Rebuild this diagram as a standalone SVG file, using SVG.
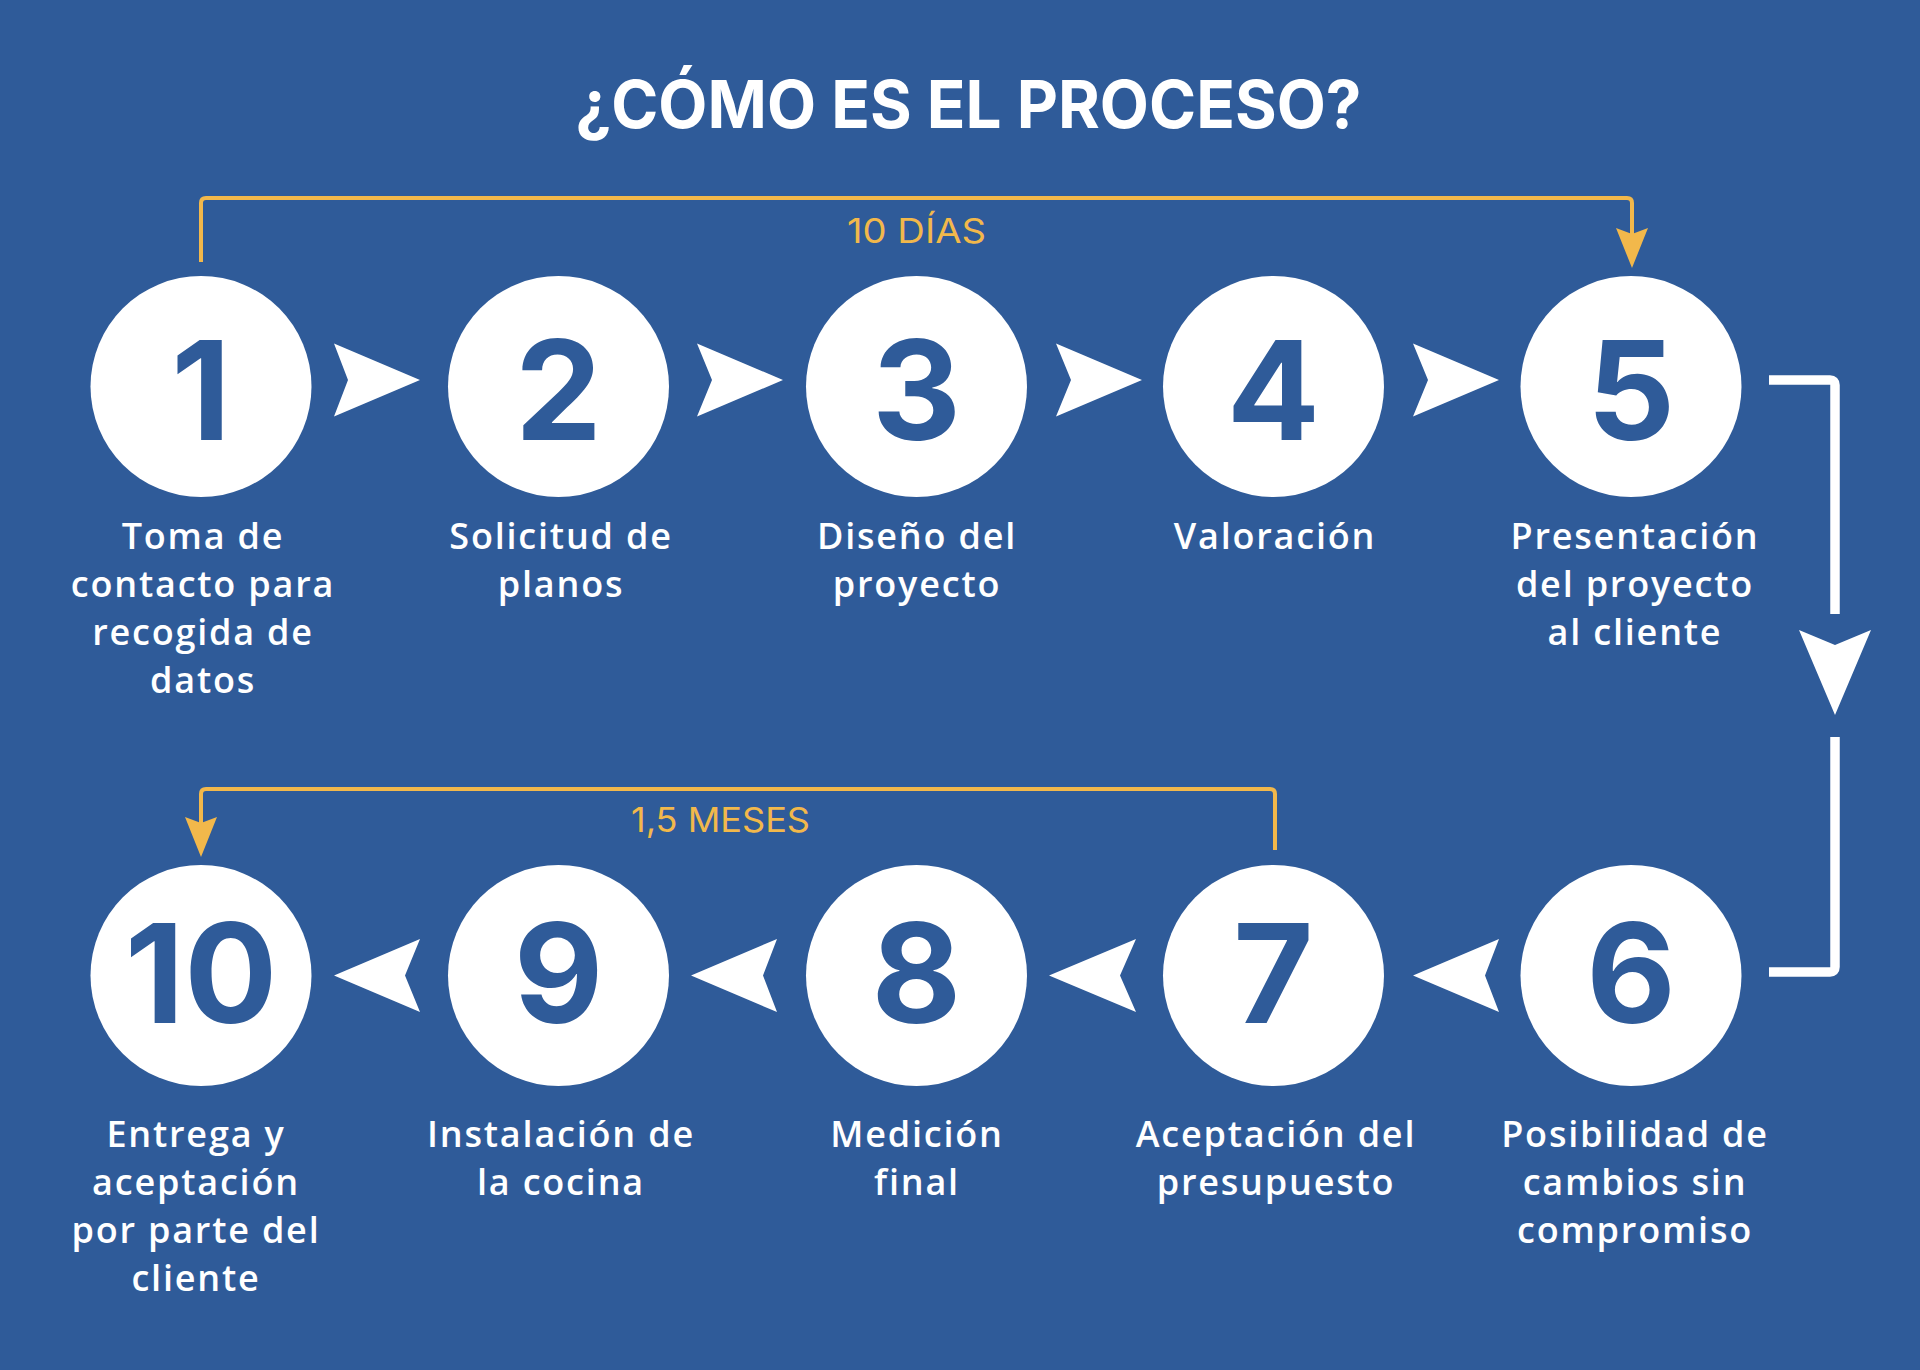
<svg xmlns="http://www.w3.org/2000/svg" width="1920" height="1370" viewBox="0 0 1920 1370">
<style>
.bg{fill:#2F5B99}
.circ{fill:#FFFFFF}
.num{font-family:Inter,"Open Sans","Liberation Sans",sans-serif;font-weight:700;font-size:138px;fill:#2F5B99;text-anchor:middle}
.lbl{font-family:"Open Sans","Noto Sans","Liberation Sans",sans-serif;font-weight:600;font-size:36px;fill:#FFFFFF;text-anchor:middle;letter-spacing:1.8px}
.title{font-family:Inter,"Open Sans","Liberation Sans",sans-serif;font-weight:700;font-size:66px;fill:#FFFFFF;text-anchor:middle}
.ylbl{font-family:Inter,"Open Sans","Liberation Sans",sans-serif;font-weight:400;font-size:34px;fill:#F2B84B;text-anchor:middle}
.wa{fill:#FFFFFF}
.wline{fill:none;stroke:#FFFFFF;stroke-width:9.5;stroke-linejoin:round}
.yline{fill:none;stroke:#F2B84B;stroke-width:4;stroke-linejoin:round}
.ya{fill:#F2B84B}
</style>
<rect class="bg" x="0" y="0" width="1920" height="1370"/>
<text class="title" x="968.5" y="128" textLength="786" lengthAdjust="spacingAndGlyphs">¿CÓMO ES EL PROCESO?</text>

<g id="connectors">
  <!-- row 1 arrows -->
  <path class="wa" d="M334,343.5 L420,380 L334,416.5 L348,380 Z"/>
  <path class="wa" d="M697,343.5 L783,380 L697,416.5 L712,380 Z"/>
  <path class="wa" d="M1056,343.5 L1142,380 L1056,416.5 L1071,380 Z"/>
  <path class="wa" d="M1413,343.5 L1499,380 L1413,416.5 L1428,380 Z"/>
  <!-- row 2 arrows -->
  <path class="wa" d="M420,939 L334,975.5 L420,1012 L405,975.5 Z"/>
  <path class="wa" d="M777,939 L691,975.5 L777,1012 L763,975.5 Z"/>
  <path class="wa" d="M1136,939 L1049,975.5 L1136,1012 L1120,975.5 Z"/>
  <path class="wa" d="M1499,939 L1413,975.5 L1499,1012 L1485,975.5 Z"/>
  <!-- right connector 5 -> 6 -->
  <path class="wline" d="M1769,380 L1830,380 Q1835,380 1835,385 L1835,614"/>
  <path class="wa" d="M1799,630 L1835,645 L1871,630 L1835,715 Z"/>
  <path class="wline" d="M1835,737 L1835,967 Q1835,972 1830,972 L1769,972"/>
  <!-- 10 DIAS bracket -->
  <path class="yline" d="M201,262 L201,203 Q201,198 206,198 L1627,198 Q1632,198 1632,203 L1632,236"/>
  <path class="ya" d="M1616,228 L1632,234 L1648,228 L1632,268 Z"/>
  <text class="ylbl" x="916.5" y="243" textLength="139" lengthAdjust="spacingAndGlyphs">10 DÍAS</text>
  <!-- 1,5 MESES bracket -->
  <path class="yline" d="M1275,850 L1275,794 Q1275,789 1270,789 L206,789 Q201,789 201,794 L201,826"/>
  <path class="ya" d="M185,817 L201,823 L217,817 L201,857 Z"/>
  <text class="ylbl" x="720.5" y="832" textLength="179" lengthAdjust="spacingAndGlyphs">1,5 MESES</text>
</g>

<g id="node1">
  <circle class="circ" cx="201" cy="386.5" r="110.5"/>
  <text class="num" x="201" y="440">1</text>
  <text class="lbl"><tspan x="203" y="549">Toma de</tspan><tspan x="203" y="597">contacto para</tspan><tspan x="203" y="645">recogida de</tspan><tspan x="203" y="693">datos</tspan></text>
</g>
<g id="node2">
  <circle class="circ" cx="558.5" cy="386.5" r="110.5"/>
  <text class="num" x="558.5" y="440">2</text>
  <text class="lbl"><tspan x="561" y="549">Solicitud de</tspan><tspan x="561" y="597">planos</tspan></text>
</g>
<g id="node3">
  <circle class="circ" cx="916.5" cy="386.5" r="110.5"/>
  <text class="num" x="916.5" y="440">3</text>
  <text class="lbl"><tspan x="917" y="549">Diseño del</tspan><tspan x="917" y="597">proyecto</tspan></text>
</g>
<g id="node4">
  <circle class="circ" cx="1273.5" cy="386.5" r="110.5"/>
  <text class="num" x="1273.5" y="440">4</text>
  <text class="lbl"><tspan x="1275" y="549">Valoración</tspan></text>
</g>
<g id="node5">
  <circle class="circ" cx="1631" cy="386.5" r="110.5"/>
  <text class="num" x="1631" y="440">5</text>
  <text class="lbl"><tspan x="1635" y="549">Presentación</tspan><tspan x="1635" y="597">del proyecto</tspan><tspan x="1635" y="645">al cliente</tspan></text>
</g>
<g id="node6">
  <circle class="circ" cx="1631" cy="975.5" r="110.5"/>
  <text class="num" x="1631" y="1023">6</text>
  <text class="lbl"><tspan x="1635" y="1147">Posibilidad de</tspan><tspan x="1635" y="1195">cambios sin</tspan><tspan x="1635" y="1243">compromiso</tspan></text>
</g>
<g id="node7">
  <circle class="circ" cx="1273.5" cy="975.5" r="110.5"/>
  <text class="num" x="1273.5" y="1023">7</text>
  <text class="lbl"><tspan x="1276" y="1147">Aceptación del</tspan><tspan x="1276" y="1195">presupuesto</tspan></text>
</g>
<g id="node8">
  <circle class="circ" cx="916.5" cy="975.5" r="110.5"/>
  <text class="num" x="916.5" y="1023">8</text>
  <text class="lbl"><tspan x="917" y="1147">Medición</tspan><tspan x="917" y="1195">final</tspan></text>
</g>
<g id="node9">
  <circle class="circ" cx="558.5" cy="975.5" r="110.5"/>
  <text class="num" x="558.5" y="1023">9</text>
  <text class="lbl"><tspan x="561" y="1147">Instalación de</tspan><tspan x="561" y="1195">la cocina</tspan></text>
</g>
<g id="node10">
  <circle class="circ" cx="201" cy="975.5" r="110.5"/>
  <text class="num" x="201" y="1023">10</text>
  <text class="lbl"><tspan x="196" y="1147">Entrega y</tspan><tspan x="196" y="1195">aceptación</tspan><tspan x="196" y="1243">por parte del</tspan><tspan x="196" y="1291">cliente</tspan></text>
</g>
</svg>
